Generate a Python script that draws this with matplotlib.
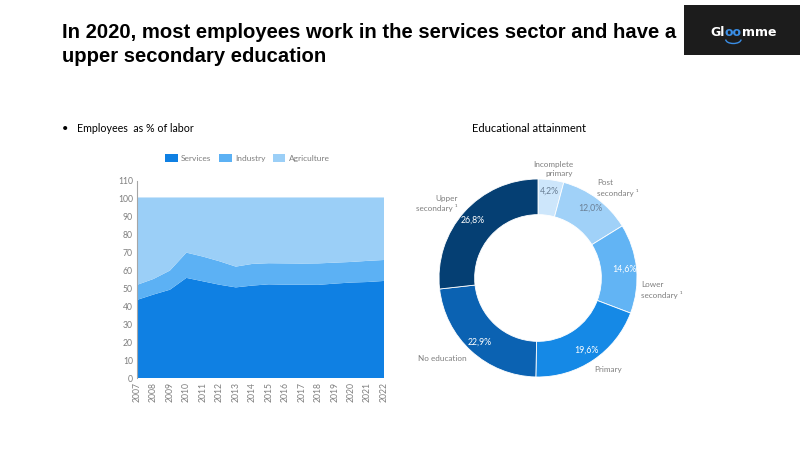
import numpy as np
import matplotlib
matplotlib.use("Agg")
import matplotlib.pyplot as plt
from matplotlib.patches import Rectangle, Arc

# ---------------- data ----------------
years = list(range(2007, 2023))
services = [43.6, 46.6, 49.3, 55.9, 54.0, 52.1, 50.6, 51.6, 52.3, 52.1, 52.1, 52.0, 52.7, 53.3, 53.6, 54.2]
industry = [8.4, 8.7, 10.7, 14.1, 13.8, 13.1, 11.6, 12.1, 11.8, 11.9, 11.8, 12.0, 11.7, 11.5, 11.8, 11.7]
agriculture = [48.8, 45.5, 40.8, 30.8, 33.0, 35.6, 38.6, 37.1, 36.7, 36.8, 36.9, 36.8, 36.4, 36.0, 35.4, 34.9]
area_names = ["Services", "Industry", "Agriculture"]

edu_labels = ["Incomplete\nprimary", "Post\nsecondary \u00b9", "Lower\nsecondary \u00b9",
              "Primary", "No education", "Upper\nsecondary \u00b9"]
edu_values = [4.2, 12.0, 14.6, 19.6, 22.9, 26.8]
edu_pct = ["4,2%", "12,0%", "14,6%", "19,6%", "22,9%", "26,8%"]

# ---------------- style ----------------
area_colors = ["#0f80e3", "#5cb1f4", "#9bcff7"]
edu_colors = ["#cde6fb", "#a0d1f8", "#62b4f4", "#1589e6", "#0b62b2", "#053f73"]
pct_colors = ["#6a7f95", "#6a7f95", "white", "white", "white", "white"]
# label anchor positions (in donut radius units) and alignment
label_pos = [(0.15, 1.10), (0.60, 0.91), (1.04, -0.12), (0.57, -0.92), (-0.72, -0.81), (-0.81, 0.75)]
label_ha = ["center", "left", "left", "left", "right", "right"]
label_ma = ["right", "left", "left", "left", "right", "right"]
gray = "#7f7f7f"
body_font = ["Lato", "DejaVu Sans"]

fig = plt.figure(figsize=(8, 4.5), dpi=100)
fig.patch.set_facecolor("white")

# title
fig.text(62 / 800, 1 - 32 / 450, "In 2020, most employees work in the services sector and have a",
         fontsize=14.6, fontweight="bold", family="Liberation Sans", va="center", ha="left", color="black")
fig.text(62 / 800, 1 - 56 / 450, "upper secondary education",
         fontsize=14.6, fontweight="bold", family="Liberation Sans", va="center", ha="left", color="black")

# logo
fig.patches.append(Rectangle((684 / 800, 1 - 55 / 450), 116 / 800, 50 / 450,
                             transform=fig.transFigure, facecolor="#1c1c1c", edgecolor="none"))
renderer = fig.canvas.get_renderer()
x_px = 710
y_fig = 1 - 32 / 450
for part, col in [("Gl", "white"), ("oo", "#3a8ee6"), ("mme", "white")]:
    t = fig.text(x_px / 800, y_fig, part, color=col, fontsize=9, fontweight="bold",
                 family="DejaVu Sans", va="center", ha="left")
    bb = t.get_window_extent(renderer)
    if part == "oo":
        cx = (bb.x0 + bb.x1) / 2
        fig.patches.append(Arc((cx / 800, (bb.y0 - 1) / 450), (bb.width * 0.9) / 800, 8 / 450,
                               theta1=180, theta2=360, transform=fig.transFigure,
                               color="#3a8ee6", linewidth=1.0))
    x_px = bb.x1 + 0.5

# subtitles
fig.text(62 / 800, 1 - 129 / 450, "\u2022", fontsize=8, family=body_font, va="center", color="black")
fig.text(77 / 800, 1 - 129 / 450, "Employees  as % of labor", fontsize=7.7, family=body_font, va="center", color="black")
fig.text(529 / 800, 1 - 129 / 450, "Educational attainment", fontsize=8, family=body_font, va="center",
         ha="center", color="black")

# ---------------- area chart ----------------
ax = fig.add_axes([137 / 800, 72 / 450, 247 / 800, 197 / 450])
ax.stackplot(years, services, industry, agriculture, colors=area_colors, labels=area_names, linewidth=0)
ax.set_xlim(2007, 2022)
ax.set_ylim(0, 110)
ax.set_yticks(range(0, 111, 10))
ax.set_xticks(years)
ax.set_xticklabels([str(y) for y in years], rotation=90)
ax.tick_params(axis="both", length=0, labelsize=6.2, colors=gray, pad=3)
for lab in ax.get_xticklabels() + ax.get_yticklabels():
    lab.set_family(body_font)
for s in ["top", "right", "bottom"]:
    ax.spines[s].set_visible(False)
ax.spines["left"].set_color("#a6a6a6")
ax.spines["left"].set_linewidth(0.8)
leg = ax.legend(loc="center", bbox_to_anchor=((247.5 - 137) / 247, (378 - 158) / 197), ncol=3, frameon=False,
                handlelength=1.5, handleheight=1.0, columnspacing=0.9, handletextpad=0.4,
                prop={"family": body_font, "size": 6})
for t in leg.get_texts():
    t.set_color(gray)

# ---------------- donut ----------------
ax2 = fig.add_axes([439 / 800, 73 / 450, 198 / 800, 198 / 450])
wedges, _ = ax2.pie(edu_values, colors=edu_colors, startangle=90, counterclock=False,
                    wedgeprops=dict(width=0.36, edgecolor="white", linewidth=0.6))
ax2.set_aspect("equal")
ax2.set_xlim(-1, 1)
ax2.set_ylim(-1, 1)

total = sum(edu_values)
cum = np.cumsum([0] + edu_values)
for i, v in enumerate(edu_values):
    mid = (cum[i] + v / 2) / total * 2 * np.pi
    sx, sy = np.sin(mid), np.cos(mid)
    ax2.text(0.88 * sx, 0.88 * sy, edu_pct[i], ha="center", va="center", fontsize=6.3,
             color=pct_colors[i], family=body_font)
    lx, ly = label_pos[i]
    ax2.text(lx, ly, edu_labels[i], ha=label_ha[i], va="center", fontsize=5.9,
             color=gray, family=body_font, linespacing=1.35, multialignment=label_ma[i],
             clip_on=False)

fig.savefig("out.png", dpi=100, facecolor="white")
